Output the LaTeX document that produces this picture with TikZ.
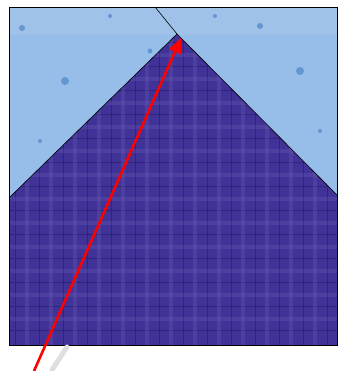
\documentclass[tikz,border=0pt]{standalone}
\usetikzlibrary{arrows.meta}
\definecolor{skyblue}{RGB}{150,190,232}
\definecolor{stripblue}{RGB}{160,194,232}
\definecolor{plaid}{RGB}{64,50,150}
\definecolor{plaiddark}{RGB}{42,30,112}
\definecolor{plaidlight}{RGB}{100,88,180}
\definecolor{dotblue}{RGB}{100,150,210}
\begin{document}
\begin{tikzpicture}[x=1pt,y=1pt]
  \useasboundingbox (0,0) rectangle (340,371);
  % sky background and top strip
  \fill[skyblue] (9,26) rectangle (337,364);
  \fill[stripblue] (9,336) rectangle (337,364);
  % spots on the blue fabric
  \foreach \px/\py/\r in {22/343/3, 65/290/4, 110/355/2, 150/320/2.5, 260/345/3, 300/300/4, 240/270/2.5, 320/240/2, 40/230/2, 215/355/2}
    \fill[dotblue] (\px,\py) circle (\r);
  % purple house shape
  \coordinate (apex) at (177,337);
  \coordinate (lb) at (9,173);
  \coordinate (rb) at (337,176);
  \fill[plaid] (apex) -- (rb) -- (337,26) -- (9,26) -- (lb) -- cycle;
  \begin{scope}
    \clip (apex) -- (rb) -- (337,26) -- (9,26) -- (lb) -- cycle;
    \foreach \k in {0,...,13}
      \draw[plaiddark, line width=1pt, opacity=0.7] (15+24*\k,26) -- (15+24*\k,340);
    \foreach \k in {0,...,13}
      \draw[plaiddark, line width=1pt, opacity=0.7] (9,40+24*\k) -- (337,40+24*\k);
    \foreach \k in {0,...,13}
      \draw[plaidlight, line width=4pt, opacity=0.35] (27+24*\k,26) -- (27+24*\k,340);
    \foreach \k in {0,...,13}
      \draw[plaidlight, line width=4pt, opacity=0.35] (9,52+24*\k) -- (337,52+24*\k);
  \end{scope}
  % seams
  \draw[black, line width=0.6pt] (lb) -- (apex) -- (rb);
  \draw[black, line width=0.6pt] (155,364) -- (apex);
  \draw[black, line width=0.8pt] (9,26) rectangle (337,364);
  % shadow and arrow
  \coordinate (tail) at (34,0);
  \coordinate (tip) at (181,333);
  \draw[gray!25, line width=5pt, line cap=round] (67,24) -- (52,1);
  \draw[red, line width=2.6pt, -{Triangle[width=13pt,length=15pt]}] (tail) -- (tip);
\end{tikzpicture}
\end{document}
